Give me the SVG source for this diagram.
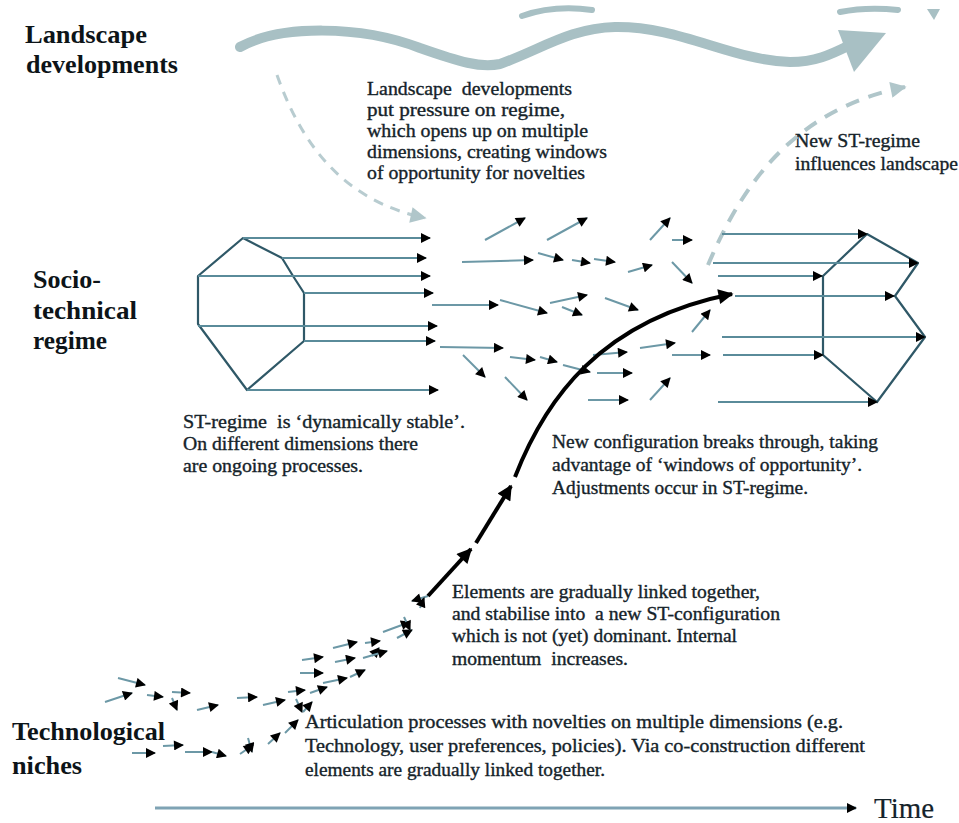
<svg xmlns="http://www.w3.org/2000/svg" width="959" height="823" viewBox="0 0 959 823" font-family="Liberation Serif, DejaVu Serif, serif">
<style>
.t{font-family:'Liberation Serif','DejaVu Serif',serif;fill:#15232a;stroke:#15232a;stroke-width:0.35;font-size:18px}
.lb{font-family:'Liberation Serif','DejaVu Serif',serif;fill:#0d1418;font-size:26px;font-weight:bold}
.sa{stroke:#6c98a6;stroke-width:2;fill:none;marker-end:url(#ah)}
.ra{stroke:#5a8b9a;stroke-width:2.2;fill:none;marker-end:url(#ah)}
.poly{stroke:#2f5867;stroke-width:2.2;fill:none;stroke-linejoin:round}
.thick{stroke:#000;stroke-width:4;fill:none;marker-end:url(#ahb)}
.grey{stroke:#a8c0c4;fill:none;stroke-linecap:round}
</style>
<defs>
<marker id="ah" viewBox="0 0 10 10" refX="9" refY="5" markerWidth="12" markerHeight="10" markerUnits="userSpaceOnUse" orient="auto"><path d="M0,0 L10,5 L0,10 z" fill="#000"/></marker>
<marker id="ahb" viewBox="0 0 10 10" refX="9" refY="5" markerWidth="20" markerHeight="15" markerUnits="userSpaceOnUse" orient="auto"><path d="M0,0 L10,5 L0,10 z" fill="#000"/></marker>
<marker id="ahg" viewBox="0 0 10 10" refX="9" refY="5" markerWidth="18" markerHeight="16" markerUnits="userSpaceOnUse" orient="auto"><path d="M0,0 L10,5 L0,10 z" fill="#b0c6ca"/></marker>
</defs>
<rect width="959" height="823" fill="#fff"/>

<g id="landscape">
<path class="grey" stroke-width="6" d="M522,16 C545,8 570,7 592,10"/>
<path class="grey" stroke-width="6" d="M840,12 C860,8 880,8 898,10"/>
<polygon points="927,9 940,9 934,20" fill="#a8c0c4"/>
<path class="grey" stroke-width="10" d="M240,47 C280,25 360,25 420,48 C460,62 480,68 500,64 C540,50 570,28 615,27 C680,26 730,60 790,62 C815,62 830,55 850,45"/>
<polygon points="838,30 886,33 854,72" fill="#a8c0c4"/>
<text class="lb" x="25" y="43" textLength="122" lengthAdjust="spacingAndGlyphs">Landscape</text>
<text class="lb" x="26" y="73" textLength="152" lengthAdjust="spacingAndGlyphs">developments</text>
</g>

<g id="landscape-text">
<text class="t" x="367" y="95" xml:space="preserve" textLength="205" lengthAdjust="spacingAndGlyphs">Landscape  developments</text>
<text class="t" x="367" y="116" textLength="198" lengthAdjust="spacingAndGlyphs">put pressure on regime,</text>
<text class="t" x="367" y="137" textLength="221" lengthAdjust="spacingAndGlyphs">which opens up on multiple</text>
<text class="t" x="367" y="158" textLength="240" lengthAdjust="spacingAndGlyphs">dimensions, creating windows</text>
<text class="t" x="367" y="179" textLength="218" lengthAdjust="spacingAndGlyphs">of opportunity for novelties</text>
</g>

<g id="new-regime-text">
<text class="t" x="795" y="147" textLength="125" lengthAdjust="spacingAndGlyphs">New ST-regime</text>
<text class="t" x="795" y="170" textLength="163" lengthAdjust="spacingAndGlyphs">influences landscape</text>
</g>

<g id="regime-label">
<text class="lb" x="33" y="288" textLength="68" lengthAdjust="spacingAndGlyphs">Socio-</text>
<text class="lb" x="33" y="319" textLength="104" lengthAdjust="spacingAndGlyphs">technical</text>
<text class="lb" x="33" y="349" textLength="74" lengthAdjust="spacingAndGlyphs">regime</text>
</g>

<g id="regime-left">
<polygon class="poly" points="243,238 282,258 293,276 304,293 304,341 247,390 198,324 198,276"/>
</g>

<g id="regime-right">
<polygon class="poly" points="867,234 918,263 895,296 925,337 877,402 823,355 823,276"/>
</g>

<g id="regime-text">
<text class="t" x="183" y="428" xml:space="preserve" textLength="282" lengthAdjust="spacingAndGlyphs">ST-regime  is ‘dynamically stable’.</text>
<text class="t" x="183" y="450" textLength="235" lengthAdjust="spacingAndGlyphs">On different dimensions there</text>
<text class="t" x="183" y="472" textLength="180" lengthAdjust="spacingAndGlyphs">are ongoing processes.</text>
</g>

<g id="breakthrough-text">
<text class="t" x="552" y="448" textLength="326" lengthAdjust="spacingAndGlyphs">New configuration breaks through, taking</text>
<text class="t" x="552" y="471" textLength="310" lengthAdjust="spacingAndGlyphs">advantage of ‘windows of opportunity’.</text>
<text class="t" x="552" y="494" textLength="256" lengthAdjust="spacingAndGlyphs">Adjustments occur in ST-regime.</text>
</g>

<g id="configuration-text">
<text class="t" x="452" y="598" textLength="308" lengthAdjust="spacingAndGlyphs">Elements are gradually linked together,</text>
<text class="t" x="452" y="620" xml:space="preserve" textLength="328" lengthAdjust="spacingAndGlyphs">and stabilise into  a new ST-configuration</text>
<text class="t" x="452" y="642" textLength="285" lengthAdjust="spacingAndGlyphs">which is not (yet) dominant. Internal</text>
<text class="t" x="452" y="665" xml:space="preserve" textLength="176" lengthAdjust="spacingAndGlyphs">momentum  increases.</text>
</g>

<g id="niches-label">
<text class="lb" x="12" y="740" textLength="153" lengthAdjust="spacingAndGlyphs">Technological</text>
<text class="lb" x="12" y="774" textLength="70" lengthAdjust="spacingAndGlyphs">niches</text>
</g>

<g id="niches-text">
<text class="t" x="305" y="728" textLength="538" lengthAdjust="spacingAndGlyphs">Articulation processes with novelties on multiple dimensions (e.g.</text>
<text class="t" x="305" y="752" textLength="560" lengthAdjust="spacingAndGlyphs">Technology, user preferences, policies). Via co-construction different</text>
<text class="t" x="305" y="776" textLength="300" lengthAdjust="spacingAndGlyphs">elements are gradually linked together.</text>
</g>

<g id="time">
<text class="t" x="874" y="818" style="font-size:30px;stroke-width:0.2" textLength="60" lengthAdjust="spacingAndGlyphs">Time</text>
</g>

<g id="connectors">
<path d="M277,75 C300,140 340,200 425,218" stroke="#b8ccd0" stroke-width="3" fill="none" stroke-dasharray="10 8" marker-end="url(#ahg)"/>
<path d="M708,265 C740,190 790,110 905,87" stroke="#b0c6ca" stroke-width="4" fill="none" stroke-dasharray="14 10" marker-end="url(#ahg)"/>

<line class="ra" x1="243" y1="238" x2="430" y2="238"/>
<line class="ra" x1="282" y1="258" x2="426" y2="258"/>
<line class="ra" x1="198" y1="276" x2="430" y2="276"/>
<line class="ra" x1="304" y1="293" x2="433" y2="293"/>
<line class="ra" x1="198" y1="326" x2="437" y2="326"/>
<line class="ra" x1="304" y1="341" x2="435" y2="341"/>
<line class="ra" x1="247" y1="390" x2="438" y2="390"/>

<line class="ra" x1="722" y1="234" x2="867" y2="234"/>
<line class="ra" x1="713" y1="263" x2="918" y2="263"/>
<line class="ra" x1="718" y1="276" x2="822" y2="276"/>
<line class="ra" x1="735" y1="296" x2="894" y2="296"/>
<line class="ra" x1="722" y1="337" x2="925" y2="337"/>
<line class="ra" x1="723" y1="355" x2="823" y2="355"/>
<line class="ra" x1="718" y1="402" x2="877" y2="402"/>

<line class="sa" x1="485" y1="240" x2="525" y2="218"/>
<line class="sa" x1="547" y1="240" x2="587" y2="218"/>
<line class="sa" x1="650" y1="240" x2="670" y2="218"/>
<line class="sa" x1="672" y1="240" x2="692" y2="240"/>
<line class="sa" x1="462" y1="262" x2="533" y2="260"/>
<line class="sa" x1="538" y1="253" x2="563" y2="260"/>
<line class="sa" x1="572" y1="260" x2="590" y2="263"/>
<line class="sa" x1="594" y1="259" x2="615" y2="262"/>
<line class="sa" x1="628" y1="272" x2="652" y2="265"/>
<line class="sa" x1="672" y1="262" x2="692" y2="283"/>
<line class="sa" x1="432" y1="305" x2="498" y2="305"/>
<line class="sa" x1="500" y1="300" x2="547" y2="313"/>
<line class="sa" x1="550" y1="303" x2="587" y2="295"/>
<line class="sa" x1="562" y1="307" x2="582" y2="315"/>
<line class="sa" x1="605" y1="298" x2="638" y2="310"/>
<line class="sa" x1="692" y1="332" x2="710" y2="310"/>
<line class="sa" x1="440" y1="347" x2="503" y2="348"/>
<line class="sa" x1="510" y1="357" x2="535" y2="360"/>
<line class="sa" x1="540" y1="357" x2="557" y2="362"/>
<line class="sa" x1="563" y1="365" x2="590" y2="372"/>
<line class="sa" x1="463" y1="355" x2="485" y2="377"/>
<line class="sa" x1="505" y1="377" x2="527" y2="400"/>
<line class="sa" x1="593" y1="355" x2="627" y2="352"/>
<line class="sa" x1="597" y1="373" x2="632" y2="373"/>
<line class="sa" x1="588" y1="400" x2="628" y2="400"/>
<line class="sa" x1="640" y1="348" x2="675" y2="343"/>
<line class="sa" x1="672" y1="355" x2="710" y2="355"/>
<line class="sa" x1="650" y1="400" x2="670" y2="378"/>

<line class="sa" x1="118" y1="678" x2="145" y2="685"/>
<line class="sa" x1="105" y1="702" x2="132" y2="693"/>
<line class="sa" x1="147" y1="695" x2="163" y2="697"/>
<line class="sa" x1="172" y1="692" x2="190" y2="693"/>
<line class="sa" x1="172" y1="698" x2="177" y2="710"/>
<line class="sa" x1="197" y1="710" x2="218" y2="705"/>
<line class="sa" x1="237" y1="698" x2="257" y2="697"/>
<line class="sa" x1="263" y1="705" x2="285" y2="700"/>
<line class="sa" x1="288" y1="692" x2="305" y2="690"/>
<line class="sa" x1="296" y1="699" x2="302" y2="712"/>
<line class="sa" x1="303" y1="712" x2="312" y2="702"/>
<line class="sa" x1="310" y1="693" x2="327" y2="687"/>
<line class="sa" x1="302" y1="660" x2="323" y2="657"/>
<line class="sa" x1="300" y1="673" x2="323" y2="673"/>
<line class="sa" x1="333" y1="648" x2="357" y2="642"/>
<line class="sa" x1="335" y1="662" x2="355" y2="658"/>
<line class="sa" x1="323" y1="683" x2="347" y2="678"/>
<line class="sa" x1="350" y1="677" x2="365" y2="670"/>
<line class="sa" x1="365" y1="643" x2="380" y2="641"/>
<line class="sa" x1="372" y1="656" x2="379" y2="648"/>
<line class="sa" x1="363" y1="658" x2="387" y2="651"/>
<line class="sa" x1="383" y1="632" x2="410" y2="622"/>
<line class="sa" x1="397" y1="638" x2="412" y2="630"/>
<line class="sa" x1="404" y1="617" x2="410" y2="630"/>
<line class="sa" x1="428" y1="596" x2="412" y2="601"/>
<line class="sa" x1="420" y1="608" x2="424" y2="598"/>

<line class="sa" x1="132" y1="753" x2="155" y2="753"/>
<line class="sa" x1="163" y1="746" x2="183" y2="745"/>
<line class="sa" x1="185" y1="752" x2="212" y2="752"/>
<line class="sa" x1="212" y1="752" x2="226" y2="756"/>
<line class="sa" x1="240" y1="754" x2="253" y2="745"/>
<line class="sa" x1="248" y1="738" x2="252" y2="752"/>
<line class="sa" x1="268" y1="744" x2="280" y2="733"/>
<line class="sa" x1="285" y1="733" x2="298" y2="720"/>

<line class="thick" x1="428" y1="596" x2="471" y2="549"/>
<line class="thick" x1="476" y1="543" x2="511" y2="486"/>
<path class="thick" d="M515,477 C545,400 600,320 732,294"/>

<line x1="155" y1="808" x2="856" y2="808" stroke="#7fa3b4" stroke-width="3" marker-end="url(#ah)"/>
</g>
</svg>
